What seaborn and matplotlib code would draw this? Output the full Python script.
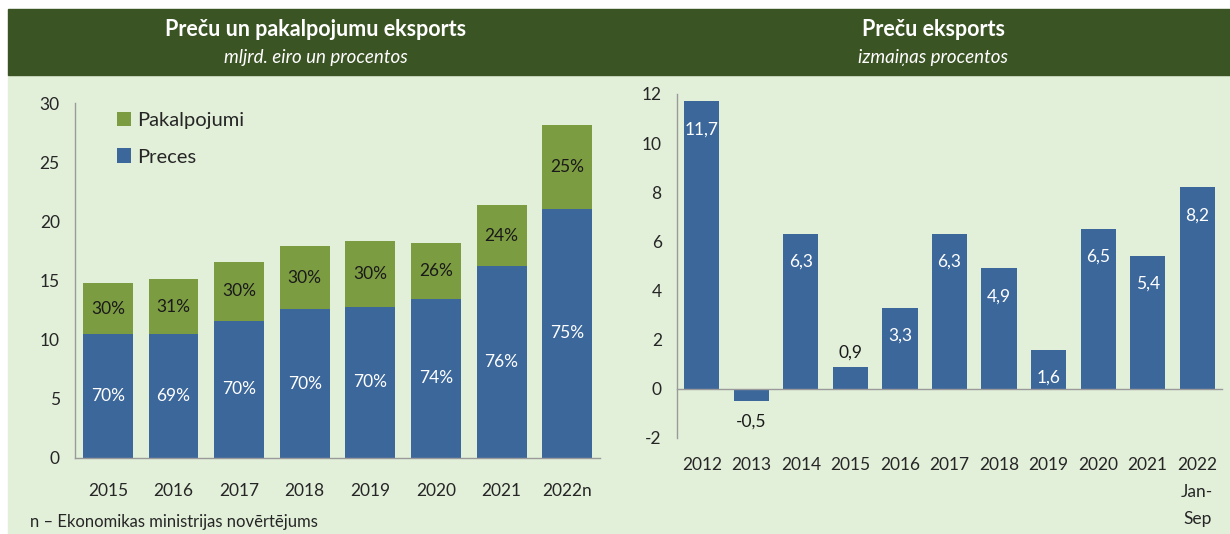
import matplotlib
matplotlib.use("Agg")
import matplotlib.pyplot as plt
import matplotlib.patches as mpatches
from matplotlib.ticker import MultipleLocator, FixedLocator
import seaborn as sns
import pandas as pd

# --- data -------------------------------------------------------------
years_left = ["2015", "2016", "2017", "2018", "2019", "2020", "2021", "2022n"]
preces = [10.45, 10.5, 11.6, 12.55, 12.8, 13.45, 16.2, 21.05]
pakalpojumi = [4.35, 4.6, 5.0, 5.35, 5.55, 4.7, 5.15, 7.05]
preces_pct = ["70%", "69%", "70%", "70%", "70%", "74%", "76%", "75%"]
pakalp_pct = ["30%", "31%", "30%", "30%", "30%", "26%", "24%", "25%"]

years_right = ["2012", "2013", "2014", "2015", "2016", "2017", "2018",
               "2019", "2020", "2021", "2022\nJan-\nSep"]
eksports_change = [11.7, -0.5, 6.3, 0.9, 3.3, 6.3, 4.9, 1.6, 6.5, 5.4, 8.2]

BLUE = "#3c679b"
GREEN = "#7c9c41"
HEADER = "#3b5424"
BG = "#e2efd9"
SPINE = "#9a9a9a"

sns.set_style("white")
plt.rcParams["font.family"] = ["Lato", "DejaVu Sans"]
plt.rcParams["axes.unicode_minus"] = False

W, H = 1230, 534
fig = plt.figure(figsize=(W / 100, H / 100), dpi=100, facecolor="white")

# background + header band
fig.patches.append(mpatches.Rectangle((8 / W, 0), 1 - 8 / W, 1 - 75 / H,
                                      transform=fig.transFigure, color=BG, zorder=-10))
fig.patches.append(mpatches.Rectangle((8 / W, 1 - 75 / H), 1 - 8 / W, 66 / H,
                                      transform=fig.transFigure, color=HEADER, zorder=-10))

fig.text(316 / W, 1 - 30 / H, "Preču un pakalpojumu eksports", color="white",
         fontsize=15.5, fontweight="bold", ha="center", va="center")
fig.text(316 / W, 1 - 57 / H, "mljrd. eiro un procentos", color="white",
         fontsize=13.5, fontstyle="italic", ha="center", va="center")
fig.text(933 / W, 1 - 30 / H, "Preču eksports", color="white",
         fontsize=15.5, fontweight="bold", ha="center", va="center")
fig.text(933 / W, 1 - 57 / H, "izmaiņas procentos", color="white",
         fontsize=13.5, fontstyle="italic", ha="center", va="center")
fig.text(30 / W, 1 - 522 / H, "n – Ekonomikas ministrijas novērtējums",
         fontsize=12, ha="left", va="center")


def style_axis(ax):
    ax.set_facecolor("none")
    for s in ["top", "right"]:
        ax.spines[s].set_visible(False)
    for s in ["left", "bottom"]:
        ax.spines[s].set_color(SPINE)
        ax.spines[s].set_linewidth(1)
    ax.tick_params(axis="y", which="major", direction="out", length=5,
                   color=SPINE, labelsize=12.5, pad=6)
    ax.tick_params(axis="x", which="major", length=0, labelsize=12.5)
    ax.tick_params(axis="x", which="minor", direction="out", length=6,
                   color=SPINE, width=1)
    ax.set_xlabel("")
    ax.set_ylabel("")


# --- left: stacked bars ----------------------------------------------
df_left = pd.DataFrame({"gads": years_left, "preces": preces,
                        "kopa": [p + s for p, s in zip(preces, pakalpojumi)]})

ax1 = fig.add_axes([75 / W, 76 / H, 525 / W, 355 / H])
sns.barplot(data=df_left, x="gads", y="kopa", color=GREEN, width=0.76,
            saturation=1, linewidth=0, label="Pakalpojumi", ax=ax1)
sns.barplot(data=df_left, x="gads", y="preces", color=BLUE, width=0.76,
            saturation=1, linewidth=0, label="Preces", ax=ax1)
style_axis(ax1)
ax1.set_ylim(0, 30)
ax1.set_xlim(-0.5, len(years_left) - 0.5)
ax1.yaxis.set_major_locator(MultipleLocator(5))
ax1.xaxis.set_minor_locator(FixedLocator([i - 0.5 for i in range(len(years_left) + 1)]))
ax1.tick_params(axis="x", which="major", pad=18)

# percent labels centred in each segment
for i, (p, s) in enumerate(zip(preces, pakalpojumi)):
    ax1.text(i, p / 2, preces_pct[i], color="white", fontsize=12.5,
             ha="center", va="center")
    ax1.text(i, p + s / 2, pakalp_pct[i], color="#1a1a1a", fontsize=12.5,
             ha="center", va="center")

ax1.legend(loc="upper left", bbox_to_anchor=(0.045, 1.025), frameon=False,
           fontsize=14.5, handlelength=0.7, handleheight=0.7,
           handletextpad=0.3, labelspacing=0.95)

# --- right: simple bars ----------------------------------------------
df_right = pd.DataFrame({"gads": years_right, "izm": eksports_change})

ax2 = fig.add_axes([677 / W, 96 / H, 545 / W, 344 / H])
sns.barplot(data=df_right, x="gads", y="izm", color=BLUE, width=0.71,
            saturation=1, linewidth=0, ax=ax2)
style_axis(ax2)
ax2.set_ylim(-2, 12)
ax2.set_xlim(-0.5, len(years_right) - 0.5)
ax2.yaxis.set_major_locator(MultipleLocator(2))
ax2.spines["bottom"].set_position(("data", 0))
ax2.xaxis.set_minor_locator(FixedLocator([i - 0.5 for i in range(len(years_right) + 1)]))
ax2.tick_params(axis="x", which="major", pad=49)
for lbl in ax2.get_xticklabels():
    lbl.set_linespacing(1.85)
    lbl.set_verticalalignment("top")

for i, v in enumerate(eksports_change):
    txt = f"{v:.1f}".replace(".", ",")
    if v >= 1:
        ax2.annotate(txt, (i, v), xytext=(0, -20), textcoords="offset points",
                     ha="center", va="center", color="white", fontsize=12.5)
    elif v >= 0:
        ax2.annotate(txt, (i, v), xytext=(0, 10), textcoords="offset points",
                     ha="center", va="center", color="#1a1a1a", fontsize=12.5)
    else:
        ax2.annotate(txt, (i, v), xytext=(0, -15), textcoords="offset points",
                     ha="center", va="center", color="#1a1a1a", fontsize=12.5)

fig.savefig("out.png", dpi=100, facecolor="white")
